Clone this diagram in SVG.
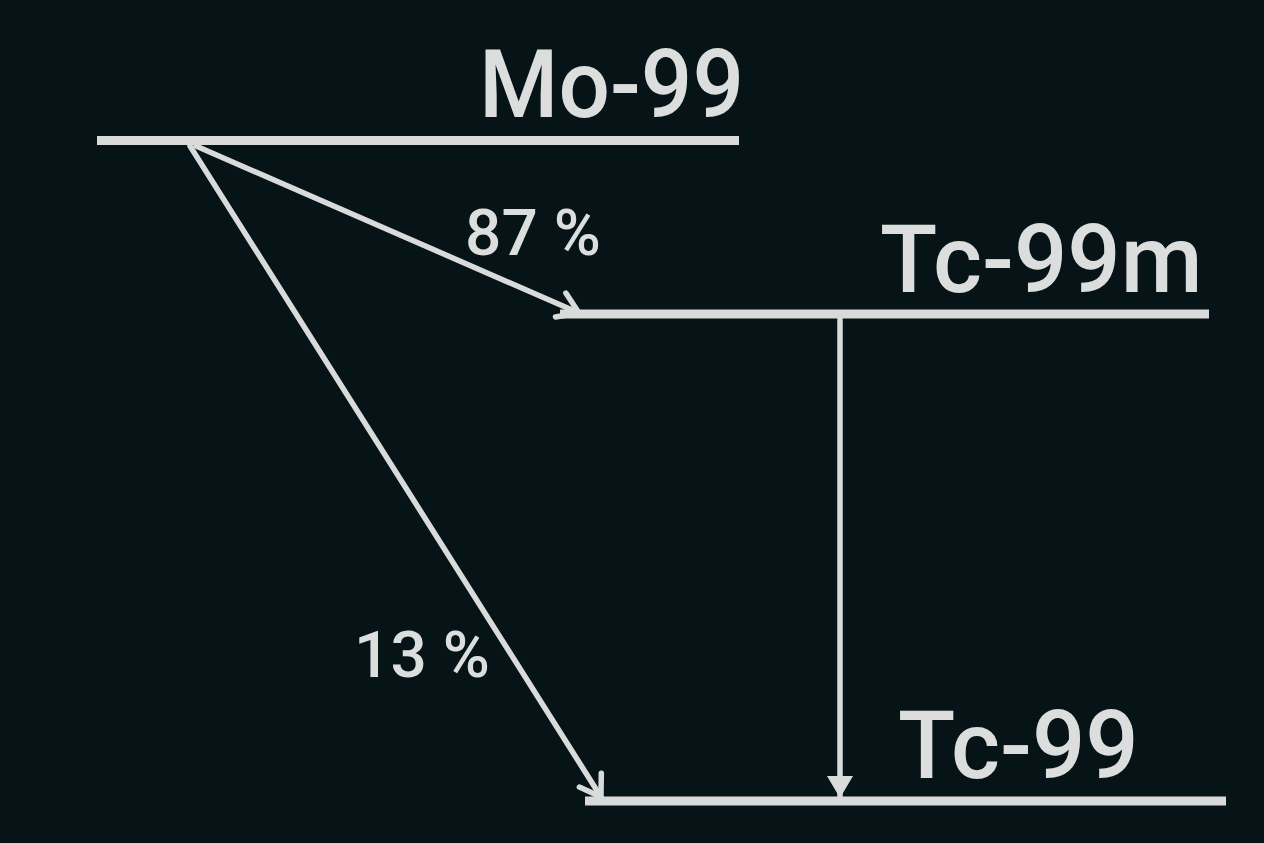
<svg xmlns="http://www.w3.org/2000/svg" width="1264" height="843" viewBox="0 0 1264 843">
<defs>
<style>
.lvl{stroke:#d9dbda;stroke-width:9;fill:none}
.arr{stroke:#d9dbda;stroke-width:5.5;fill:none;stroke-linecap:round}
.big{font-family:Roboto,"Liberation Sans",sans-serif;font-size:94px;font-weight:500;fill:#dcdedd}
.pct{font-family:Roboto,"Liberation Sans",sans-serif;font-size:64px;font-weight:500;fill:#dcdedd}
</style>
<marker id="open" viewBox="0 0 26 32" refX="23" refY="16" markerWidth="26" markerHeight="32" markerUnits="userSpaceOnUse" orient="auto">
<path d="M3,3 L23,16 L3,29" fill="none" stroke="#d9dbda" stroke-width="5.5" stroke-linecap="round" stroke-linejoin="round"/>
</marker>
<marker id="solid" viewBox="0 0 22 26" refX="21" refY="13" markerWidth="22" markerHeight="26" markerUnits="userSpaceOnUse" orient="auto">
<path d="M0,0 L22,13 L0,26 Z" fill="#d9dbda"/>
</marker>
</defs>
<rect width="1264" height="843" fill="#061418"/>
<g id="mo99">
<line class="lvl" x1="97" y1="140.5" x2="739" y2="140.5"/>
<text class="big" x="479" y="117" textLength="265" lengthAdjust="spacingAndGlyphs">Mo-99</text>
</g>
<g id="tc99m">
<line class="lvl" x1="560" y1="314" x2="1209" y2="314"/>
<text class="big" x="880" y="292">Tc-99m</text>
</g>
<g id="tc99">
<line class="lvl" x1="585" y1="801" x2="1226" y2="801"/>
<text class="big" x="898" y="778">Tc-99</text>
</g>
<g id="connectors">
<line class="arr" x1="196" y1="146" x2="579" y2="313" marker-end="url(#open)"/>
<line class="arr" x1="190" y1="146" x2="601" y2="797" marker-end="url(#open)"/>
<line class="arr" x1="840" y1="318" x2="840" y2="797" marker-end="url(#solid)"/>
<text class="pct" x="465" y="255">87 %</text>
<text class="pct" x="354" y="677">13 %</text>
</g>
</svg>
